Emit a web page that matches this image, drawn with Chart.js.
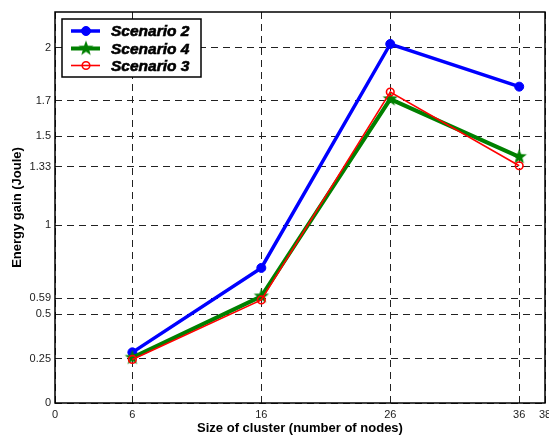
<!DOCTYPE html>
<html>
<head>
<meta charset="utf-8">
<script src="https://cdn.jsdelivr.net/npm/chart.js@4/dist/chart.umd.min.js"></script>
<style>
  html, body { margin: 0; padding: 0; background: #fff; }
  #wrap { width: 549px; height: 438px; }
</style>
</head>
<body>
<div id="wrap"><canvas id="chart" width="549" height="438"></canvas></div>
<script>
// Data
const clusterSizes = [6, 16, 26, 36];
const scenario2 = [0.285, 0.76, 2.02, 1.78];
const scenario4 = [0.255, 0.60, 1.71, 1.385];
const scenario3 = [0.245, 0.58, 1.75, 1.335];
const xTickValues = [0, 6, 16, 26, 36, 38];
const yTickValues = [0, 0.25, 0.5, 0.59, 1, 1.33, 1.5, 1.7, 2];

const FONT = '"Liberation Sans", Arial, sans-serif';

/**
 * Filled five point star used as the Scenario 4 marker
 */
function makeStar(outer, inner, color) {
  const size = outer * 2 + 2;
  const c = document.createElement('canvas');
  c.width = size;
  c.height = size;
  const g = c.getContext('2d');
  g.beginPath();
  for (let i = 0; i < 10; i++) {
    const r = i % 2 === 0 ? outer : inner;
    const a = -Math.PI / 2 + i * Math.PI / 5;
    const px = size / 2 + r * Math.cos(a);
    const py = size / 2 + r * Math.sin(a);
    if (i === 0) g.moveTo(px, py); else g.lineTo(px, py);
  }
  g.closePath();
  g.fillStyle = color;
  g.fill();
  return c;
}

const starImg = makeStar(8, 3.3, '#008000');

function toPoints(values) {
  return values.map((v, i) => ({ x: clusterSizes[i], y: v }));
}

// Solid box round the plot area
const frame = {
  id: 'frame',
  afterDatasetsDraw(chart) {
    const { ctx, chartArea: a } = chart;
    ctx.save();
    ctx.strokeStyle = '#000';
    ctx.lineWidth = 1.5;
    ctx.strokeRect(a.left, a.top, a.right - a.left, a.bottom - a.top);
    ctx.restore();
  },
};

// Boxed legend inside the top left corner
const boxLegend = {
  id: 'boxLegend',
  afterDraw(chart) {
    const { ctx } = chart;
    const rows = [31, 48.5, 65.5];
    ctx.save();
    ctx.fillStyle = '#fff';
    ctx.fillRect(62, 19, 139, 58);
    ctx.strokeStyle = '#000';
    ctx.lineWidth = 1.5;
    ctx.strokeRect(62, 19, 139, 58);
    chart.data.datasets.forEach((ds, r) => {
      const y = rows[r];
      ctx.strokeStyle = ds.borderColor;
      ctx.lineWidth = ds.borderWidth;
      ctx.beginPath();
      ctx.moveTo(71, y);
      ctx.lineTo(100, y);
      ctx.stroke();
      if (ds.pointStyle instanceof HTMLCanvasElement) {
        const s = ds.pointStyle;
        ctx.drawImage(s, 86 - s.width / 2, y - s.height / 2);
      } else {
        ctx.beginPath();
        ctx.arc(86, y, ds.pointRadius, 0, Math.PI * 2);
        ctx.fillStyle = ds.pointBackgroundColor;
        ctx.fill();
        ctx.lineWidth = ds.pointBorderWidth;
        ctx.strokeStyle = ds.pointBorderColor;
        ctx.stroke();
      }
      ctx.fillStyle = '#000';
      ctx.strokeStyle = '#000';
      ctx.lineWidth = 0.6;
      ctx.font = 'italic bold 15.5px ' + FONT;
      ctx.textBaseline = 'middle';
      ctx.textAlign = 'left';
      ctx.fillText(ds.label, 111, y + 1);
      ctx.strokeText(ds.label, 111, y + 1);
    });
    ctx.restore();
  },
};

const gridStyle = {
  color: '#222',
  lineWidth: 1,
  drawTicks: false,
};

new Chart(document.getElementById('chart'), {
  type: 'line',
  data: {
    datasets: [
      {
        label: 'Scenario 2',
        data: toPoints(scenario2),
        borderColor: '#0000ff',
        borderWidth: 3.5,
        pointRadius: 4.5,
        pointBackgroundColor: '#0000ff',
        pointBorderColor: '#0000ff',
        pointBorderWidth: 1,
        order: 3,
      },
      {
        label: 'Scenario 4',
        data: toPoints(scenario4),
        borderColor: '#008000',
        borderWidth: 4,
        pointStyle: starImg,
        pointRadius: 8,
        order: 2,
      },
      {
        label: 'Scenario 3',
        data: toPoints(scenario3),
        borderColor: '#ff0000',
        borderWidth: 1.6,
        pointRadius: 3.8,
        pointBackgroundColor: 'rgba(0,0,0,0)',
        pointBorderColor: '#ff0000',
        pointBorderWidth: 1.6,
        order: 1,
      },
    ],
  },
  options: {
    responsive: false,
    animation: false,
    events: [],
    layout: { autoPadding: false, padding: { top: 12, right: 4, left: 0, bottom: 0 } },
    plugins: {
      legend: { display: false },
      tooltip: { enabled: false },
    },
    scales: {
      x: {
        type: 'linear',
        min: 0,
        max: 38,
        afterBuildTicks: (scale) => {
          scale.ticks = xTickValues.map((v) => ({ value: v }));
        },
        afterFit: (scale) => {
          scale.height = 35;
          scale.paddingLeft = 0;
          scale.paddingRight = 0;
        },
        grid: gridStyle,
        border: { display: false, dash: [7, 5] },
        ticks: {
          color: '#222',
          font: { family: FONT, size: 11 },
          padding: 5,
          maxRotation: 0,
          autoSkip: false,
          callback: (v) => String(v),
        },
        title: {
          display: true,
          text: 'Size of cluster (number of nodes)',
          color: '#000',
          font: { family: FONT, size: 13, weight: 'bold' },
          padding: { top: 0, bottom: 2 },
        },
      },
      y: {
        type: 'linear',
        min: 0,
        max: 2.2,
        afterBuildTicks: (scale) => {
          scale.ticks = yTickValues.map((v) => ({ value: v }));
        },
        afterFit: (scale) => {
          scale.width = 55;
          scale.paddingTop = 0;
          scale.paddingBottom = 0;
        },
        grid: gridStyle,
        border: { display: false, dash: [7, 5] },
        ticks: {
          color: '#222',
          font: { family: FONT, size: 11 },
          padding: 4,
          autoSkip: false,
          callback: (v) => String(v),
        },
        title: {
          display: true,
          text: 'Energy gain (Joule)',
          color: '#000',
          font: { family: FONT, size: 13, weight: 'bold' },
          padding: { top: 10, bottom: 0 },
        },
      },
    },
  },
  plugins: [frame, boxLegend],
});
</script>
</body>
</html>
